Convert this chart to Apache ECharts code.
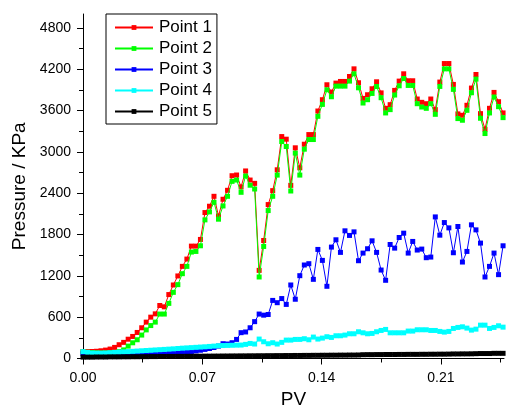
<!DOCTYPE html>
<html>
<head>
<meta charset="utf-8">
<script src="https://cdn.jsdelivr.net/npm/echarts@6/dist/echarts.min.js"></script>
<style>
html,body{margin:0;padding:0;background:#fff;}
#chart{width:509px;height:408px;}
</style>
</head>
<body>
<div id="chart"></div>
<script>
const pv = [0, 0.00265, 0.0053, 0.00795, 0.0106, 0.01325, 0.0159, 0.01855, 0.0212, 0.02385,
  0.0265, 0.02915, 0.0318, 0.03445, 0.0371, 0.03975, 0.0424, 0.04505, 0.0477, 0.05035,
  0.053, 0.05565, 0.0583, 0.06095, 0.0636, 0.06625, 0.0689, 0.07155, 0.0742, 0.07685,
  0.0795, 0.08215, 0.0848, 0.08745, 0.0901, 0.09275, 0.0954, 0.09805, 0.1007, 0.10335,
  0.106, 0.10865, 0.1113, 0.11395, 0.1166, 0.11925, 0.1219, 0.12455, 0.1272, 0.12985,
  0.1325, 0.13515, 0.1378, 0.14045, 0.1431, 0.14575, 0.1484, 0.15105, 0.1537, 0.15635,
  0.159, 0.16165, 0.1643, 0.16695, 0.1696, 0.17225, 0.1749, 0.17755, 0.1802, 0.18285,
  0.1855, 0.18815, 0.1908, 0.19345, 0.1961, 0.19875, 0.2014, 0.20405, 0.2067, 0.20935,
  0.212, 0.21465, 0.2173, 0.21995, 0.2226, 0.22525, 0.2279, 0.23055, 0.2332, 0.23585,
  0.2385, 0.24115, 0.2438, 0.24645];

const point1 = [100, 100, 102, 105, 112, 122, 137, 161, 200, 234,
  280, 320, 378, 446, 528, 600, 648, 769, 750, 928,
  1067, 1198, 1337, 1443, 1631, 1631, 1728, 2118, 2210, 2354,
  2070, 2311, 2441, 2653, 2663, 2490, 2722, 2590, 2542, 1279,
  1713, 2234, 2436, 2739, 3221, 3183, 2513, 3058, 2768, 3110,
  3250, 3250, 3592, 3756, 3973, 3867, 3997, 4021, 4021, 4093,
  4204, 4002, 3775, 3828, 3915, 4016, 3855, 3631, 3684, 3891,
  4026, 4132, 4031, 4031, 3766, 3718, 3698, 3766, 3612, 4012,
  4281, 4281, 3978, 3550, 3530, 3675, 3925, 4122, 3554, 3328,
  3631, 3862, 3727, 3564];

const point2 = [95, 90, 85, 82, 80, 80, 82, 88, 100, 125,
  180, 228, 272, 340, 415, 478, 528, 645, 645, 800,
  960, 1072, 1231, 1337, 1545, 1554, 1636, 2012, 2128, 2267,
  2022, 2214, 2354, 2571, 2590, 2412, 2648, 2515, 2460, 1183,
  1626, 2147, 2354, 2662, 3149, 3077, 2431, 2981, 2662, 3038,
  3178, 3178, 3515, 3688, 3900, 3799, 3953, 3953, 3953, 4026,
  4132, 3929, 3708, 3756, 3847, 3948, 3785, 3564, 3612, 3824,
  3958, 4064, 3963, 3963, 3698, 3650, 3631, 3698, 3544, 3949,
  4204, 4204, 3906, 3482, 3458, 3602, 3857, 4055, 3487, 3265,
  3564, 3795, 3655, 3496];

const point3 = [70, 65, 60, 55, 50, 48, 45, 43, 42, 42,
  43, 45, 47, 50, 53, 56, 60, 64, 68, 72,
  77, 82, 88, 95, 102, 110, 120, 132, 145, 160,
  180, 215, 210, 229, 277, 375, 385, 446, 535, 645,
  629, 639, 843, 810, 870, 785, 1067, 860, 1202, 1357,
  1376, 1149, 1583, 1424, 1048, 1617, 1723, 1540, 1853, 1786,
  1838, 1419, 1530, 1593, 1708, 1540, 1284, 1135, 1655, 1602,
  1756, 1819, 1530, 1699, 1574, 1588, 1463, 1472, 2055, 1790,
  1973, 1896, 1535, 1916, 1400, 1554, 1940, 1867, 1675, 1183,
  1337, 1530, 1217, 1636];

const point4 = [100, 88, 80, 78, 78, 80, 84, 88, 92, 96,
  100, 104, 108, 112, 116, 120, 124, 128, 132, 136,
  140, 145, 150, 154, 158, 162, 166, 170, 175, 180,
  185, 188, 190, 192, 194, 195, 205, 219, 210, 282,
  243, 214, 229, 210, 234, 267, 267, 277, 277, 287,
  272, 311, 282, 296, 316, 306, 330, 330, 340, 359,
  359, 388, 373, 359, 364, 388, 407, 422, 373, 373,
  373, 373, 398, 398, 417, 417, 417, 407, 407, 393,
  383, 393, 436, 451, 460, 441, 412, 426, 484, 484,
  436, 451, 475, 455];

const point5 = [20, 20, 20, 22, 22, 22, 24, 24, 24, 25,
  25, 26, 26, 27, 27, 28, 28, 29, 29, 30,
  30, 31, 31, 32, 32, 33, 33, 34, 34, 35,
  35, 36, 36, 37, 37, 38, 38, 39, 39, 40,
  40, 41, 41, 42, 42, 43, 43, 44, 44, 45,
  45, 46, 46, 47, 47, 48, 48, 49, 49, 50,
  50, 51, 55, 56, 56, 57, 57, 58, 58, 58,
  59, 59, 60, 60, 60, 61, 61, 62, 62, 63,
  63, 64, 66, 66, 67, 67, 68, 70, 72, 72,
  72, 75, 75, 75];

const seriesNames = ['Point 1', 'Point 2', 'Point 3', 'Point 4', 'Point 5'];
const seriesColors = ['#ff0000', '#00ff00', '#0000ff', '#00ffff', '#000000'];
const seriesValues = [point1, point2, point3, point4, point5];

const xMajorTicks = [0, 0.07, 0.14, 0.21];
const xMinorTicks = [0.035, 0.105, 0.175, 0.245];
const yMajorTicks = [0, 600, 1200, 1800, 2400, 3000, 3600, 4200, 4800];
const yMinorTicks = [300, 900, 1500, 2100, 2700, 3300, 3900, 4500];

const FONT = '"Liberation Sans", Arial, sans-serif';
const chart = echarts.init(document.getElementById('chart'), null, {renderer: 'canvas'});

const series = seriesNames.map((name, k) => ({
  name: name,
  type: 'line',
  xAxisIndex: 0,
  yAxisIndex: 0,
  data: pv.map((x, i) => [x, seriesValues[k][i]]),
  symbol: 'rect',
  symbolSize: 5,
  showSymbol: true,
  lineStyle: {color: seriesColors[k], width: 1},
  itemStyle: {color: seriesColors[k]},
  animation: false,
  z: 2 + k
}));

const axisLineStyle = {show: true, lineStyle: {color: '#000', width: 1}};

chart.setOption({
  animation: false,
  backgroundColor: '#fff',
  grid: {left: 83, right: 5, top: 14, bottom: 49.5, containLabel: false, outerBoundsMode: 'none'},
  legend: {
    orient: 'vertical',
    left: 106,
    top: 14,
    data: seriesNames,
    itemWidth: 38,
    itemHeight: 6,
    itemGap: 4,
    padding: [5, 5, 4, 8],
    borderColor: '#000',
    borderWidth: 1,
    backgroundColor: '#fff',
    textStyle: {fontFamily: FONT, fontSize: 17, color: '#000', padding: [0, 0, 0, 1]}
  },
  xAxis: [{
    type: 'value', min: 0, max: 0.247,
    position: 'bottom',
    name: 'PV', nameLocation: 'middle', nameGap: 29,
    nameTextStyle: {fontFamily: FONT, fontSize: 19, color: '#000'},
    axisLine: axisLineStyle,
    axisTick: {show: true, inside: false, length: 6, customValues: xMajorTicks, lineStyle: {color: '#000'}},
    axisLabel: {show: true, customValues: xMajorTicks, margin: 13, fontFamily: FONT, fontSize: 14, color: '#000',
      formatter: v => v.toFixed(2)},
    splitLine: {show: false}
  }, {
    type: 'value', min: 0, max: 0.247,
    position: 'bottom', offset: 0,
    axisLine: {show: false},
    axisTick: {show: true, inside: false, length: 4, customValues: xMinorTicks, lineStyle: {color: '#000'}},
    axisLabel: {show: false},
    splitLine: {show: false}
  }],
  yAxis: [{
    type: 'value', min: 0, max: 5000,
    position: 'left',
    name: 'Pressure / KPa', nameLocation: 'middle', nameGap: 46, nameRotate: 90,
    nameTextStyle: {fontFamily: FONT, fontSize: 19, color: '#000'},
    axisLine: axisLineStyle,
    axisTick: {show: true, inside: false, length: 6, customValues: yMajorTicks, lineStyle: {color: '#000'}},
    axisLabel: {show: true, customValues: yMajorTicks, margin: 12, fontFamily: FONT, fontSize: 14, color: '#000',
      formatter: v => String(v)},
    splitLine: {show: false}
  }, {
    type: 'value', min: 0, max: 5000,
    position: 'left', offset: 0,
    axisLine: {show: false},
    axisTick: {show: true, inside: false, length: 4, customValues: yMinorTicks, lineStyle: {color: '#000'}},
    axisLabel: {show: false},
    splitLine: {show: false}
  }],
  series: series
});
</script>
</body>
</html>
